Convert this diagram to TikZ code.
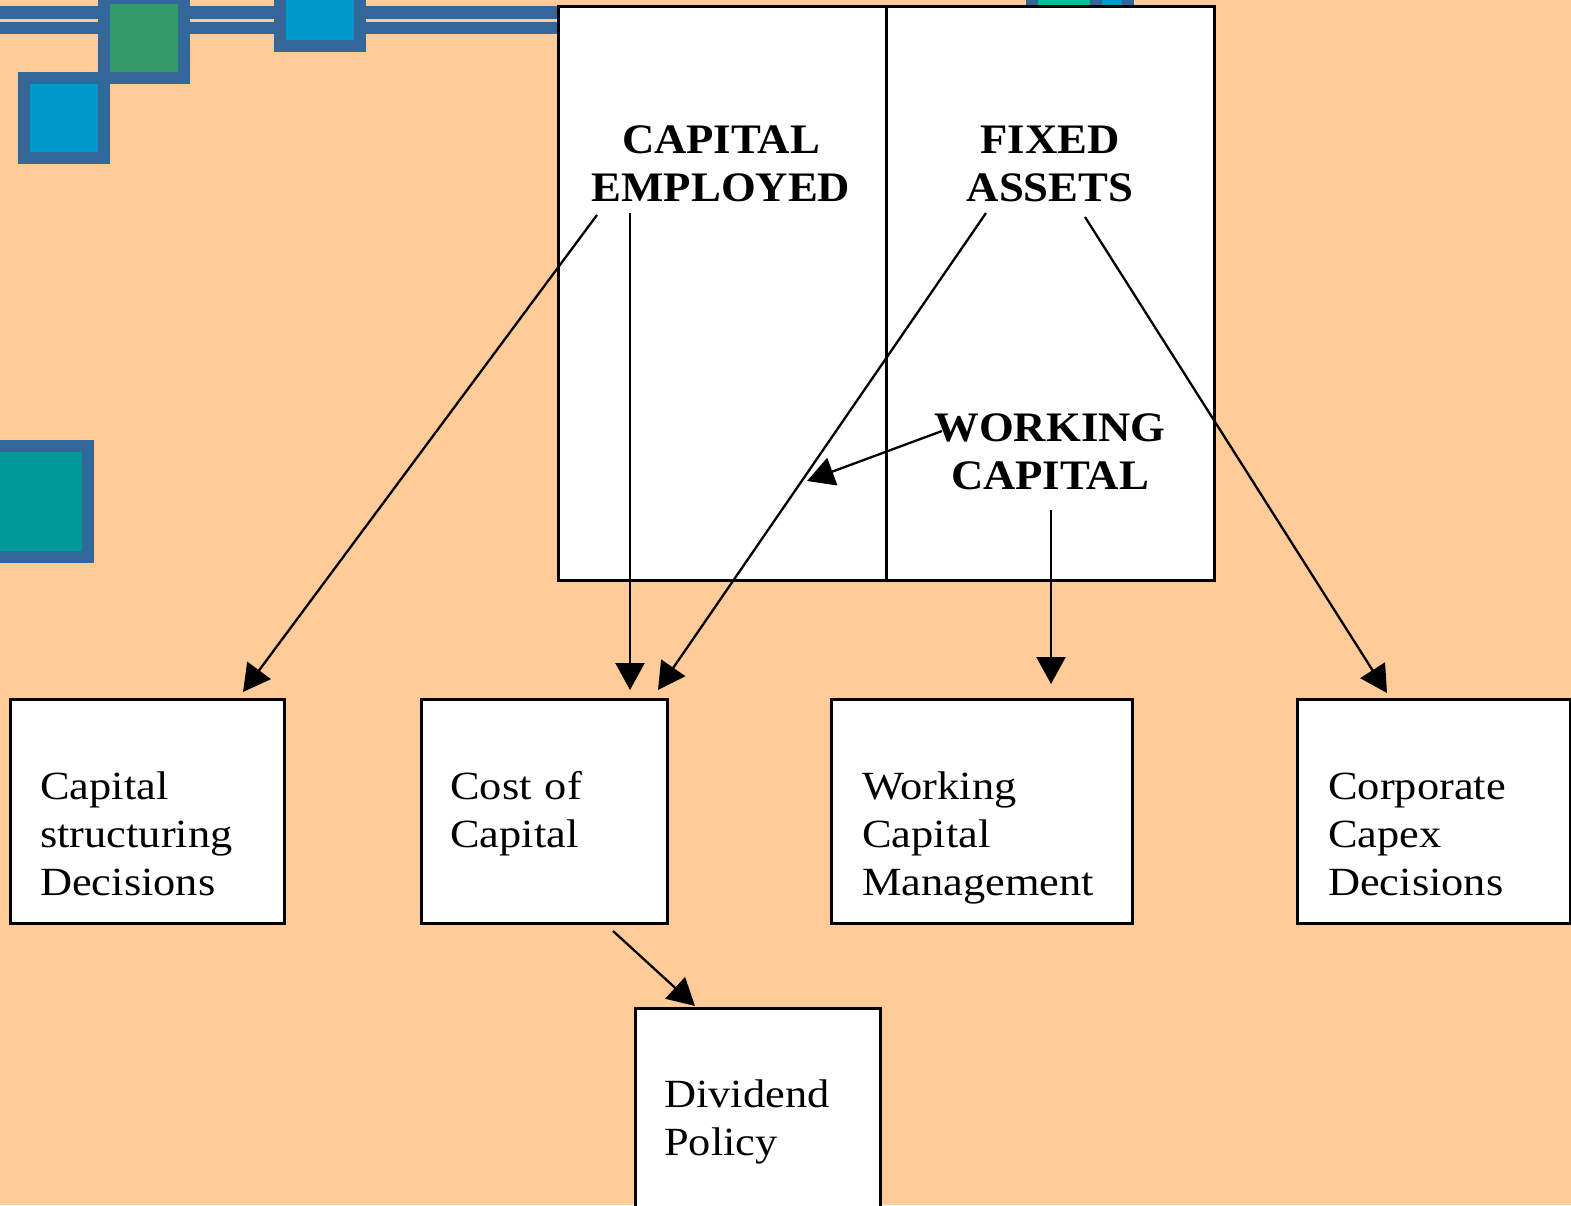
\documentclass[tikz,border=0pt]{standalone}
\usepackage{fontspec}
\setmainfont{Liberation Serif}
\newfontfamily\boxfont{Liberation Serif}[FakeStretch=1.11]
\newfontfamily\hdrfont{Liberation Serif}[FakeStretch=1.065]
\usetikzlibrary{arrows.meta,calc}
\definecolor{peach}{HTML}{FFCC99}
\definecolor{decoborder}{HTML}{336699}
\definecolor{decogreen}{HTML}{339966}
\definecolor{decoblue}{HTML}{0099CC}
\definecolor{decoteal}{HTML}{009999}
\definecolor{decotgreen}{HTML}{00C096}
\tikzset{
  boxst/.style={draw=black, fill=white, line width=2.6pt, inner sep=0pt, anchor=north west, minimum height=224pt},
  boxtext/.style={inner sep=0pt, anchor=base west, text width=300pt, align=left, font=\boxfont\fontsize{40}{48}\selectfont},
  hdrtext/.style={inner sep=0pt, anchor=base, text width=340pt, align=center, font=\hdrfont\bfseries\fontsize{42}{48}\selectfont},
  arr/.style={line width=2.3pt, -{Triangle[length=27pt,width=29pt]}}
}
\begin{document}
\begin{tikzpicture}[x=1pt,y=-1pt]
\useasboundingbox (0,0) rectangle (1571,1205);
\fill[peach] (0,0) rectangle (1571,1205);
\begin{scope}
\clip (0,0) rectangle (1571,1205);
% bars
\fill[decoborder] (0,6) rectangle (557,19);
\fill[decoborder] (0,22) rectangle (557,34);
% green square
\fill[decoborder] (98,-8) rectangle (190,84);
\fill[decogreen] (110,4) rectangle (178,72);
% blue top square
\fill[decoborder] (274,-40) rectangle (366,52);
\fill[decoblue] (286,-28) rectangle (354,40);
% blue lower square
\fill[decoborder] (18,72) rectangle (110,164);
\fill[decoblue] (30,84) rectangle (98,152);
% teal left square
\fill[decoborder] (-29,440) rectangle (94,563);
\fill[decoteal] (-29,452) rectangle (82,551);
% top right squares (mostly hidden)
\fill[decoborder] (1026,-60) rectangle (1134,20);
\fill[decotgreen] (1038,-60) rectangle (1090,20);
\fill[decoblue] (1102,-60) rectangle (1122,20);
\end{scope}
% main box
\node[boxst, minimum width=656pt, minimum height=574pt] (main) at (557,5) {};
\draw[line width=2.6pt] (main.north) -- (main.south);
% headers
\node[hdrtext] (ce) at (721,153) {CAPITAL\\EMPLOYED};
\node[hdrtext] (fa) at (1050,153) {FIXED\\ASSETS};
\node[hdrtext] (wc) at (1050,441) {WORKING\\CAPITAL};
% lower boxes
\node[boxst, minimum width=274pt] (csd) at (9,698) {};
\node[boxst, minimum width=246pt] (coc) at (420,698) {};
\node[boxst, minimum width=301pt] (wcm) at (830,698) {};
\node[boxst, minimum width=273pt] (ccd) at (1296,698) {};
\node[boxst, minimum width=245pt, minimum height=240pt] (div) at (634,1007) {};
\node[boxtext] (csdt) at ($(csd.north west)+(31,101)$) {Capital\\structuring\\Decisions};
\node[boxtext] (coct) at ($(coc.north west)+(30,101)$) {Cost of\\Capital};
\node[boxtext] (wcmt) at ($(wcm.north west)+(32,101)$) {Working\\Capital\\Management};
\node[boxtext] (ccdt) at ($(ccd.north west)+(32,101)$) {Corporate\\Capex\\Decisions};
\node[boxtext] (divt) at ($(div.north west)+(30,100)$) {Dividend\\Policy};
% arrow start points
\coordinate (ce1) at (597,215);
\coordinate (ce2) at (630,213);
\coordinate (fa1) at (986,213);
\coordinate (fa2) at (1085,217);
\coordinate (wc1) at (942,431);
\coordinate (wc2) at (1051,510);
\coordinate (wcend) at (807,481);
\coordinate (coc1) at (613,931);
% arrows
\draw[arr] (ce1) -- ($(csd.north west)+(234,-6)$);
\draw[arr] (ce2) -- ($(coc.north west)+(210,-8)$);
\draw[arr] (fa1) -- ($(coc.north west)+(238,-8)$);
\draw[arr] (fa2) -- ($(ccd.north west)+(91,-5)$);
\draw[arr] (wc1) -- (wcend);
\draw[arr] (wc2) -- ($(wcm.north west)+(221,-14)$);
\draw[arr] (coc1) -- ($(div.north west)+(61,-1)$);
\end{tikzpicture}
\end{document}
